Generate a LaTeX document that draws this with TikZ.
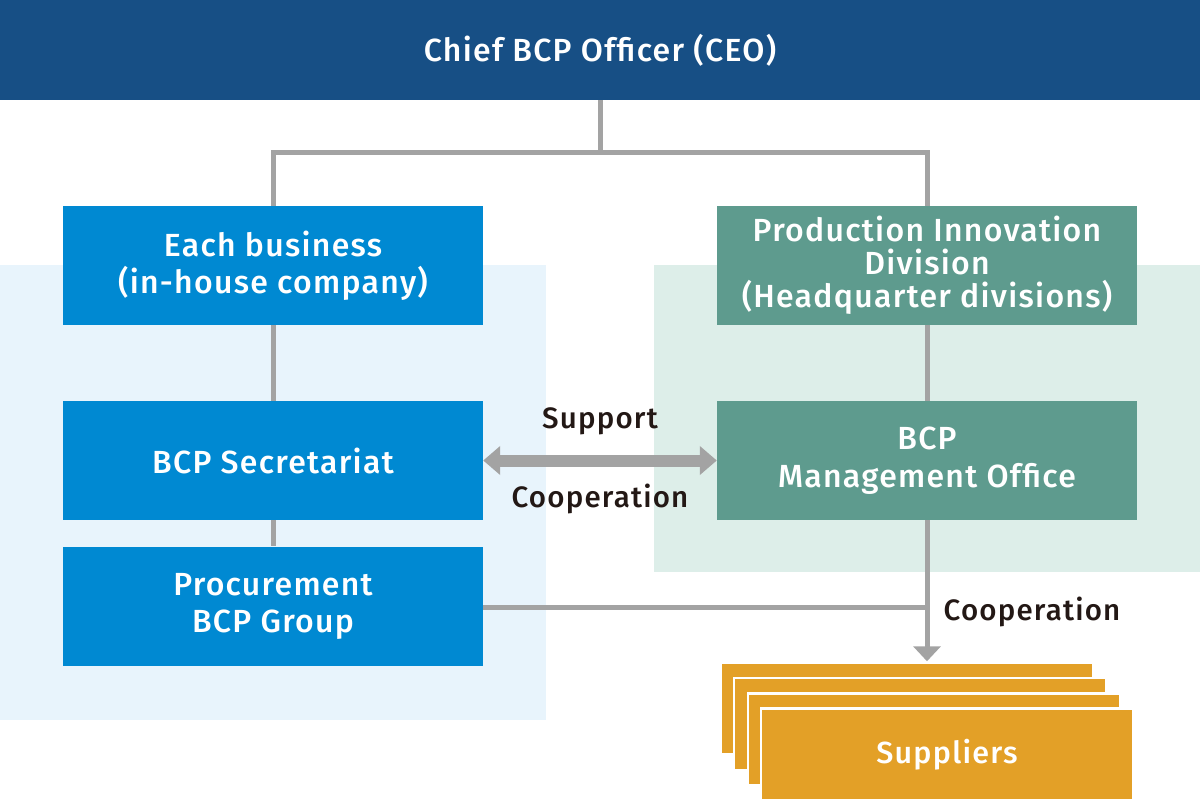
\documentclass[tikz,border=0pt]{standalone}
\usepackage{fontspec}
\setmainfont{Fira Sans}[UprightFont={* Medium}, LetterSpace=4]
\usetikzlibrary{arrows.meta}
\definecolor{ceoblue}{HTML}{174F85}
\definecolor{boxblue}{HTML}{0089D2}
\definecolor{boxgreen}{HTML}{5E9B8E}
\definecolor{bgblue}{HTML}{E8F4FC}
\definecolor{bggreen}{HTML}{DDEEE9}
\definecolor{linegray}{HTML}{A3A3A3}
\definecolor{supp}{HTML}{E3A027}
\definecolor{labeltext}{HTML}{231815}
\tikzset{
  unitbox/.style={minimum width=420pt, minimum height=119pt, inner sep=0pt, text=white, align=center, font=\fontsize{32}{37}\selectfont},
  bluebox/.style={unitbox, fill=boxblue},
  greenbox/.style={unitbox, fill=boxgreen},
  suppbox/.style={fill=supp, draw=white, line width=2.5pt, minimum width=372pt, minimum height=92pt, inner sep=0pt, text=white, font=\fontsize{30.5}{36}\selectfont},
  conn/.style={draw=linegray, line width=5pt},
  lbl/.style={text=labeltext, font=\fontsize{29.5}{34}\selectfont, inner sep=0pt},
}
\begin{document}
\begin{tikzpicture}[x=1pt,y=-1pt]
\useasboundingbox (0,0) rectangle (1200,804);
\fill[white] (0,0) rectangle (1200,804);
% backgrounds
\fill[bgblue] (0,265) rectangle (546,720);
\fill[bggreen] (654,265) rectangle (1200,572);
% top bar
\node[fill=ceoblue, minimum width=1200pt, minimum height=100pt, inner sep=0pt, text=white, font=\fontsize{32}{38}\selectfont] (ceo) at (600,50) {Chief BCP Officer (CEO)};
\coordinate (j) at (600,152);
% boxes
\node[bluebox] (eb) at (273,265.5) {Each business\\(in-house company)};
\node[bluebox] (sec) at (273,460.5) {BCP Secretariat};
\node[bluebox] (proc) at (273,606) {Procurement\\BCP Group};
\node[greenbox, font=\fontsize{32}{33}\selectfont] (pid) at (927,265.5) {Production Innovation\\Division\\(Headquarter divisions)};
\node[greenbox, font=\fontsize{32}{38}\selectfont] (mgmt) at (927,460.5) {BCP\\Management Office};
% suppliers
\node[suppbox] (s1) at (907,708.5) {};
\node[suppbox] (s2) at (920,724) {};
\node[suppbox] (s3) at (934,739.5) {};
\node[suppbox] (s4) at (947,754.5) {Suppliers};
% connectors
\draw[conn] (ceo.south) -- (j);
\draw[conn] (eb.north) |- (j) -| (pid.north);
\draw[conn] (eb.south) -- (sec.north);
\draw[conn] (sec.south) -- (proc.north);
\draw[conn] (pid.south) -- (mgmt.north);
\draw[draw=linegray, line width=12pt, {Triangle[width=28pt,length=17pt]}-{Triangle[width=28pt,length=17pt]}] (sec.east) -- (mgmt.west);
\coordinate (jt) at (927,607);
\draw[conn] (proc.east |- jt) -- (jt);
\draw[conn, -{Triangle[width=27pt,length=15pt]}] (mgmt.south) -- (s1.north -| mgmt.south);
% labels
\node[lbl] (sup) at (600,421) {Support};
\node[lbl] (coop1) at (600,499) {Cooperation};
\node[lbl] (coop2) at (1032,612) {Cooperation};
\end{tikzpicture}
\end{document}
